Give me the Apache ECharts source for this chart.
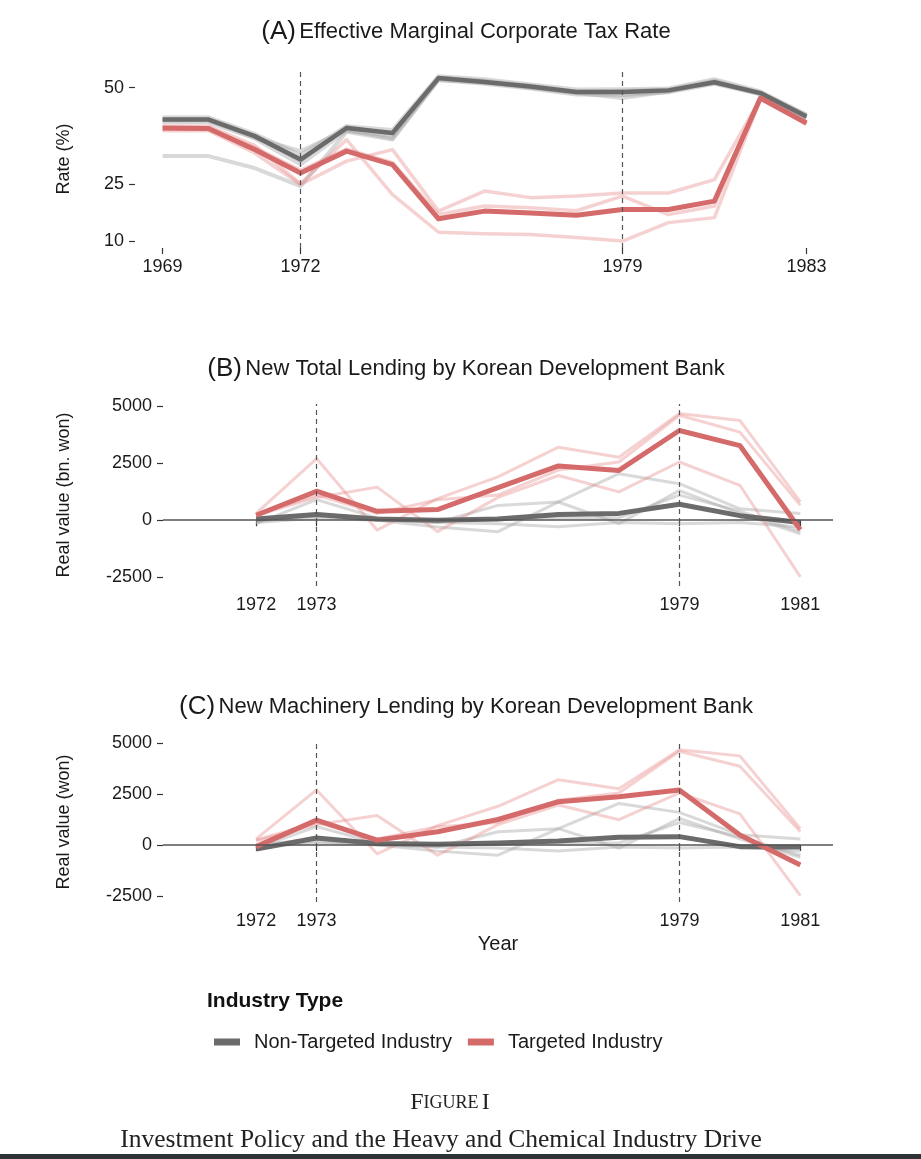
<!DOCTYPE html>
<html>
<head>
<meta charset="utf-8">
<script src="https://cdn.jsdelivr.net/npm/echarts@6/dist/echarts.min.js"></script>
<style>
  html, body { margin: 0; padding: 0; background: #fff; }
  #chart { width: 921px; height: 1159px; }
</style>
</head>
<body>
<div id="chart"></div>
<script>
// panel A: effective marginal corporate tax rate (%)
const yearsA = [1969, 1970, 1971, 1972, 1973, 1974, 1975, 1976, 1977, 1978, 1979, 1980, 1981, 1982, 1983];
const taxNonTargeted = [41.7, 41.7, 37.4, 31.3, 39.5, 38.2, 52.5, 51.5, 50.3, 48.9, 48.9, 49.3, 51.4, 48.6, 42.5];
const taxTargeted = [39.5, 39.4, 33.9, 27.8, 33.5, 30.0, 15.9, 17.9, 17.4, 16.8, 18.3, 18.3, 20.5, 47.3, 40.8];
const taxNonTargetedInd = [
  [42.3, 42.3, 38.0, 32.5, 40.0, 39.0, 53.0, 52.2, 50.8, 49.5, 49.6, 49.8, 52.2, 49.0, 43.0],
  [41.0, 41.0, 36.8, 30.0, 38.8, 37.5, 52.0, 51.0, 49.8, 48.2, 48.0, 48.8, 51.0, 48.3, 42.0],
  [41.5, 41.5, 37.0, 33.5, 39.0, 36.8, 52.3, 51.6, 50.0, 48.6, 47.3, 49.0, 51.6, 48.4, 42.3],
  [32.2, 32.2, 29.1, 24.4, 38.5, 36.5, 52.0, 51.3, 50.1, 48.7, 48.4, 49.1, 51.2, 48.5, 42.2],
  [41.8, 41.8, 37.6, 31.0, 39.8, 38.0, 52.6, 51.8, 50.5, 49.0, 49.2, 49.5, 51.8, 48.7, 42.8]
];
const taxTargetedInd = [
  [40.0, 40.0, 35.0, 25.0, 36.5, 22.2, 12.4, 12.0, 11.8, 11.0, 10.1, 14.9, 16.2, 47.0, 40.5],
  [38.8, 38.8, 33.0, 24.8, 30.9, 33.9, 17.9, 23.1, 21.4, 21.8, 22.6, 22.6, 26.1, 47.2, 40.6],
  [39.2, 39.2, 34.5, 28.5, 34.0, 30.5, 17.0, 19.2, 18.8, 18.0, 21.8, 17.0, 19.2, 47.5, 41.0]
];

// panels B and C: new lending by Korean Development Bank
const yearsB = [1972, 1973, 1974, 1975, 1976, 1977, 1978, 1979, 1980, 1981];
const totalNonTargeted = [50, 250, 50, 0, 50, 250, 300, 700, 200, -100];
const totalTargeted = [220, 1270, 390, 465, 1430, 2380, 2180, 3930, 3270, -420];
const machNonTargeted = [-200, 340, 80, 40, 100, 200, 380, 410, -80, -100];
const machTargeted = [-80, 1220, 240, 650, 1250, 2120, 2370, 2700, 490, -980];
// individual industries (same in both lending panels)
const lendNonTargetedInd = [
  [-150, 900, 100, -100, 650, 800, -150, 1300, 300, -600],
  [-50, 200, 0, -300, -500, 800, 2040, 1600, 500, 300],
  [-100, 100, 0, -100, -150, -290, -100, -150, -100, -300],
  [0, 300, 50, 0, 100, 100, 100, 1100, 400, -500]
];
const lendTargetedInd = [
  [300, 2700, -430, 950, 1900, 3200, 2760, 4670, 4370, 800],
  [200, 1000, 1450, -500, 1000, 1960, 1240, 2550, 1530, -2480],
  [250, 1100, 300, 900, 1100, 2200, 2550, 4600, 3860, 650]
];

const tickA = [1969, 1972, 1979, 1983];
const tickB = [1972, 1973, 1979, 1981];
const dashA = [1972, 1979];
const dashB = [1973, 1979];

const FONT = 'Liberation Sans';
const GREY = '#6b6b6b';
const RED = '#d56a6a';
const GREY_F = 'rgba(165,165,165,0.42)';
const RED_F = 'rgba(228,135,135,0.38)';

function pairs(years, vals) {
  return years.map((y, i) => [y, vals[i]]);
}

function line(name, years, vals, idx, color, width, z) {
  return {
    name: name,
    type: 'line',
    xAxisIndex: idx,
    yAxisIndex: idx,
    data: pairs(years, vals),
    showSymbol: false,
    symbol: 'none',
    silent: true,
    z: z,
    itemStyle: { color: color },
    lineStyle: { color: color, width: width, join: 'round' }
  };
}

const plain = v => String(v);

function xAxis(idx, min, max, ticks, extra) {
  return Object.assign({
    type: 'value',
    gridIndex: idx,
    min: min,
    max: max,
    splitLine: { show: false },
    axisLine: { show: false },
    axisTick: { show: true, customValues: ticks, length: 6, lineStyle: { color: '#333', width: 1.2 } },
    axisLabel: { customValues: ticks, formatter: plain, margin: 10, fontFamily: FONT, fontSize: 18, color: '#1a1a1a' }
  }, extra || {});
}

function yAxis(idx, min, max, ticks, name, gap) {
  return {
    type: 'value',
    gridIndex: idx,
    min: min,
    max: max,
    name: name,
    nameLocation: 'middle',
    nameGap: gap,
    nameRotate: 90,
    nameTextStyle: { fontFamily: FONT, fontSize: 18, color: '#1a1a1a' },
    splitLine: { show: false },
    axisLine: { show: false },
    axisTick: { show: true, customValues: ticks, length: 6, lineStyle: { color: '#333', width: 1.2 } },
    axisLabel: { customValues: ticks, formatter: plain, margin: 11, fontFamily: FONT, fontSize: 18, color: '#1a1a1a' }
  };
}

const series = [];

// A
taxNonTargetedInd.forEach((v, i) => series.push(line('nt-a-' + i, yearsA, v, 0, GREY_F, 4, 2)));
taxTargetedInd.forEach((v, i) => series.push(line('t-a-' + i, yearsA, v, 0, RED_F, 3.5, 2)));
series.push(line('Non-Targeted Industry', yearsA, taxNonTargeted, 0, GREY, 4.5, 3));
series.push(line('Targeted Industry', yearsA, taxTargeted, 0, RED, 5, 4));

// B and C
[[1, totalNonTargeted, totalTargeted], [2, machNonTargeted, machTargeted]].forEach(p => {
  const idx = p[0];
  lendNonTargetedInd.forEach((v, i) => series.push(line('nt-' + idx + '-' + i, yearsB, v, idx, GREY_F, 3, 2)));
  lendTargetedInd.forEach((v, i) => series.push(line('t-' + idx + '-' + i, yearsB, v, idx, RED_F, 3, 2)));
  series.push(line('Non-Targeted Industry', yearsB, p[1], idx, GREY, 5, 3));
  series.push(line('Targeted Industry', yearsB, p[2], idx, RED, 5, 4));
});

// dashed year markers and zero lines
function marks(idx, years, zero) {
  const data = years.map(y => ({ xAxis: y, lineStyle: { type: [5, 4], color: '#555', width: 1.2 } }));
  if (zero) data.push({ yAxis: 0, lineStyle: { type: 'solid', color: '#555', width: 1.6 } });
  return {
    type: 'line',
    xAxisIndex: idx,
    yAxisIndex: idx,
    data: [],
    silent: true,
    z: 5,
    markLine: { symbol: 'none', silent: true, label: { show: false }, animation: false, data: data }
  };
}
series.push(marks(0, dashA, false));
series.push(marks(1, dashB, true));
series.push(marks(2, dashB, true));

function panelTitle(letter, text, y) {
  return {
    type: 'text',
    x: 466,
    y: y,
    style: {
      text: '{p|(' + letter + ')} {t|' + text + '}',
      align: 'center',
      verticalAlign: 'middle',
      rich: {
        p: { fontFamily: FONT, fontSize: 26, fill: '#1a1a1a' },
        t: { fontFamily: FONT, fontSize: 22, fill: '#1a1a1a' }
      }
    }
  };
}

const chart = echarts.init(document.getElementById('chart'));
chart.setOption({
  animation: false,
  backgroundColor: '#fff',
  grid: [
    { left: 135, right: 87, top: 70, height: 178 },
    { left: 163, right: 88, top: 404, height: 182 },
    { left: 163, right: 88, top: 742, height: 160 }
  ],
  xAxis: [
    xAxis(0, 1968.4, 1983.6, tickA),
    xAxis(1, 1970.46, 1981.54, tickB),
    xAxis(2, 1970.46, 1981.54, tickB, {
      name: 'Year', nameLocation: 'middle', nameGap: 32,
      nameTextStyle: { fontFamily: FONT, fontSize: 20, color: '#1a1a1a' }
    })
  ],
  yAxis: [
    yAxis(0, 8.3, 54.6, [10, 25, 50], 'Rate (%)', 62),
    yAxis(1, -2880, 5090, [-2500, 0, 2500, 5000], 'Real value (bn. won)', 90),
    yAxis(2, -2794, 5050, [-2500, 0, 2500, 5000], 'Real value (won)', 90)
  ],
  legend: {
    left: 209,
    top: 1027,
    data: ['Non-Targeted Industry', 'Targeted Industry'],
    icon: 'rect',
    itemWidth: 26,
    itemHeight: 7,
    itemGap: 16,
    selectedMode: false,
    textStyle: { fontFamily: FONT, fontSize: 20, color: '#1a1a1a', padding: [0, 0, 0, 9] }
  },
  graphic: [
    panelTitle('A', 'Effective Marginal Corporate Tax Rate', 32),
    panelTitle('B', 'New Total Lending by Korean Development Bank', 369),
    panelTitle('C', 'New Machinery Lending by Korean Development Bank', 707),
    {
      type: 'text', x: 207, y: 1001,
      style: { text: 'Industry Type', fontFamily: FONT, fontSize: 21, fontWeight: 'bold', fill: '#111', verticalAlign: 'middle' }
    },
    {
      type: 'text', x: 450, y: 1103,
      style: {
        text: '{a|F}{b|IGURE} {a|I}',
        align: 'center', verticalAlign: 'middle',
        rich: {
          a: { fontFamily: 'Liberation Serif', fontSize: 24, fill: '#222' },
          b: { fontFamily: 'Liberation Serif', fontSize: 18, fill: '#222' }
        }
      }
    },
    {
      type: 'text', x: 441, y: 1140,
      style: {
        text: 'Investment Policy and the Heavy and Chemical Industry Drive',
        fontFamily: 'Liberation Serif', fontSize: 25.5, fill: '#222',
        align: 'center', verticalAlign: 'middle'
      }
    },
    {
      type: 'rect', left: 0, top: 1154,
      shape: { width: 921, height: 5 },
      style: { fill: '#2f3335' }
    }
  ],
  series: series
});
</script>
</body>
</html>
